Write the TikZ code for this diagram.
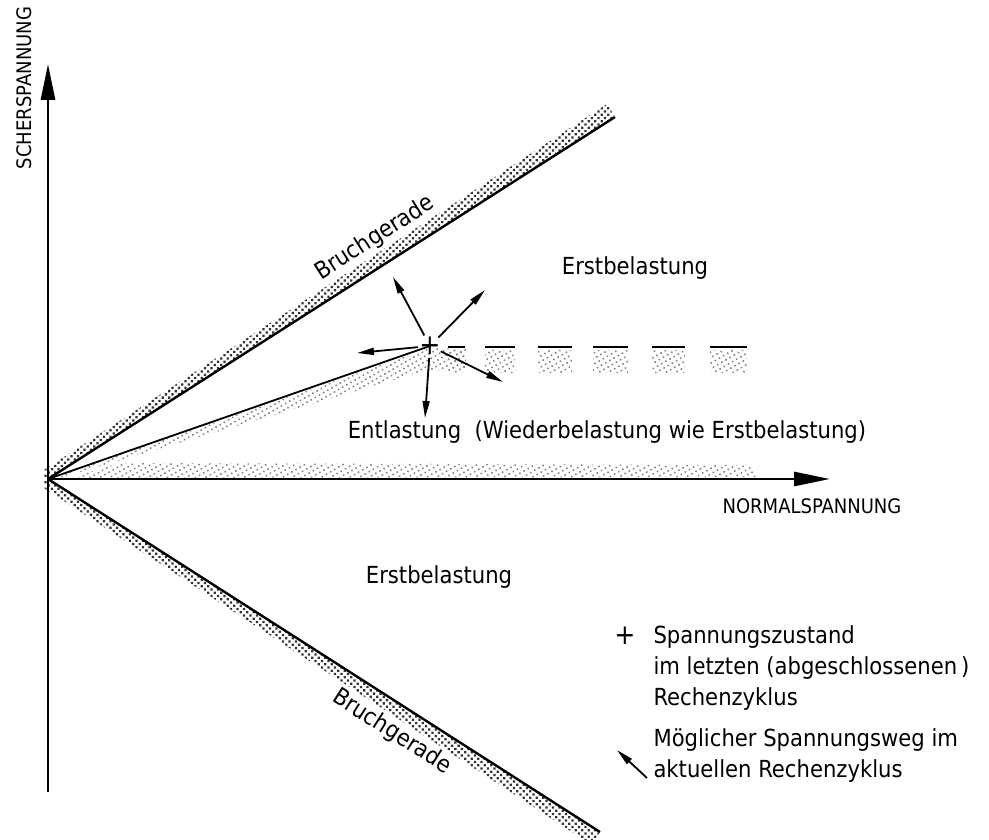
\documentclass[tikz,border=0pt]{standalone}
\usepackage{fontspec}
\setmainfont{DejaVu Sans Condensed}
\usetikzlibrary{arrows.meta,patterns.meta}

\begin{document}
\begin{tikzpicture}
      [x=1pt,y=-1pt,
      axis/.style={line width=2.8pt,-{Triangle[length=36pt,width=14pt]}},
      gerade/.style={line width=2.4pt},
      weg/.style={line width=1.8pt,shorten <=12pt,-{Triangle[length=17pt,width=7pt]}},
      dichte/.style={pattern={Dots[radius=1.6pt,distance=4.6pt,angle=45]},pattern color=black!80},
      lichte/.style={pattern={Dots[radius=1.1pt,distance=4.8pt,angle=30]},pattern color=black!50},
      label node/.style={font=\fontsize{23.5}{31}\selectfont},
      axis node/.style={font=\fontsize{20}{24}\selectfont}]
      \useasboundingbox (0,0) rectangle (989,840);
      \coordinate (o) at (48,479);
      \coordinate (ytip) at (48,64);
      \coordinate (ybot) at (48,792);
      \coordinate (xtip) at (830,479);
      \coordinate (bo) at (615,117);
      \coordinate (bu) at (600,832);
      % shaded bands
      \path[dichte] (44,481) -- (bo) -- (607,104) -- (44,470) -- cycle;
      \path[dichte] (44,477) -- (bu) -- (592,845) -- (44,488) -- cycle;
      \path[lichte] (50,479) -- (430,348) -- (466,349) -- (466,368) -- (420,372) -- (60,478) -- cycle;
      \path[lichte] (70,478) -- (120,463) -- (748,465) -- (760,477) -- cycle;
      % dashes
      \foreach \a/\b in {448/465,485/515,538/572,593/628,652/685,710/747} {
        \path[lichte] (\a,350) rectangle (\b,372);
        \draw[line width=1.8pt] (\a,347) -- (\b,347);
      }
      % axes and lines
      \draw[axis] (ybot) -- (ytip);
      \draw[axis] (o) -- (xtip);
      \draw[gerade] (o) -- (bo);
      \draw[gerade] (o) -- (bu);
      \node[circle,inner sep=0pt,minimum size=2pt,font=\fontsize{28}{28}\selectfont] (zust) at (430,346) {+};
      \draw[line width=1.8pt] (o) -- (zust.center);
      % possible paths
      \coordinate (a1) at (393,277);
      \coordinate (a2) at (485,290);
      \coordinate (a3) at (357,353);
      \coordinate (a4) at (503,382);
      \coordinate (a5) at (425,418);
      \foreach \e in {a1,a2,a3,a4,a5}
        \draw[weg] (zust.center) -- (\e);
      % labels
      \node[axis node,rotate=90] (tau) at (24,88) {SCHERSPANNUNG};
      \node[axis node] (sigma) at (812,506) {NORMALSPANNUNG};
      \node[label node,rotate=32.6] (bg1) at (375,238) {Bruchgerade};
      \node[label node,rotate=-32.6] (bg2) at (392,732) {Bruchgerade};
      \node[label node] (eb1) at (635,268) {Erstbelastung};
      \node[label node] (eb2) at (439,577) {Erstbelastung};
      \node[label node] (el) at (607,432) {Entlastung\ \ (Wiederbelastung wie Erstbelastung)};
      % legend
      \node[font=\fontsize{28}{28}\selectfont] (leg1) at (625,636) {+};
      \node[label node,anchor=north west,align=left] (leg1t) at (650,622)
        {Spannungszustand\\im letzten (abgeschlossenen\,)\\Rechenzyklus};
      \coordinate (l2a) at (647,778);
      \coordinate (l2b) at (617,750);
      \draw[line width=1.8pt,-{Triangle[length=17pt,width=7pt]}] (l2a) -- (l2b);
      \node[label node,anchor=north west,align=left] (leg2t) at (650,725)
        {Möglicher Spannungsweg im\\aktuellen Rechenzyklus};
    \end{tikzpicture}
\end{document}
